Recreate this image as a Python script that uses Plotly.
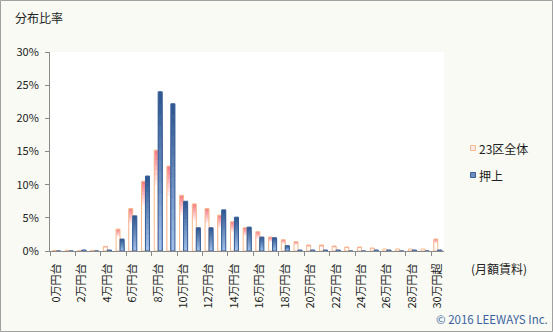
import plotly.graph_objects as go

# ---- data ----
categories = [f"{i}万円台" for i in range(30)] + ["30万円超"]
tokyo23 = [0.1, 0.1, 0.1, 0.1, 0.7, 3.3, 6.4, 10.5, 15.2, 12.8, 8.4, 7.1, 6.4, 5.4, 4.4,
           3.5, 2.9, 2.1, 1.7, 1.4, 0.9, 0.9, 0.75, 0.6, 0.6, 0.45, 0.3, 0.3, 0.3, 0.3, 1.8]
oshiage = [0, 0, 0.15, 0, 0.15, 1.8, 5.3, 11.3, 24.0, 22.2, 7.5, 3.5, 3.5, 6.2, 5.1,
           3.6, 2.1, 2.0, 0.8, 0.15, 0.15, 0.15, 0.15, 0, 0, 0.15, 0.15, 0, 0.15, 0, 0.15]
series_names = ["23区全体", "押上"]
y_ticks = [0, 5, 10, 15, 20, 25, 30]

W, H = 553, 332
ML, MR, MT, MB = 50, 109, 52, 81
PW, PH = W - ML - MR, H - MT - MB


def px(x):
    return (x - ML) / PW


def py(y):
    return (H - MB - y) / PH


def mix(c1, c2, t):
    return "rgb(%d,%d,%d)" % tuple(round(a + (b - a) * t) for a, b in zip(c1, c2))


xs = list(range(len(categories)))
fig = go.Figure()

PINK_OFF, PINK_W = -0.30, 0.31
BLUE_OFF, BLUE_W = 0.01, 0.32

# pink gradient (top pink -> white)
pink_top, white = (247, 128, 140), (255, 255, 255)
NP = 8
for i in range(NP):
    f = 1 - i * 0.05
    fig.add_trace(go.Bar(x=xs, y=[v * f for v in tokyo23], offset=PINK_OFF, width=PINK_W,
                         marker=dict(color=mix(pink_top, white, i / (NP - 1)), line=dict(width=0)),
                         showlegend=False, hoverinfo="skip"))
fig.add_trace(go.Bar(x=xs, y=tokyo23, offset=PINK_OFF, width=PINK_W, name=series_names[0],
                     marker=dict(color="rgba(0,0,0,0)", line=dict(color="#f6b98c", width=1)),
                     showlegend=False))

# blue gradient (top dark -> bottom light)
blue_top, blue_bot = (48, 88, 146), (160, 190, 232)
NB = 14
for i in range(NB):
    f = (NB - i) / NB
    fig.add_trace(go.Bar(x=xs, y=[v * f for v in oshiage], offset=BLUE_OFF, width=BLUE_W,
                         marker=dict(color=mix(blue_top, blue_bot, i / (NB - 1)), line=dict(width=0)),
                         showlegend=False, hoverinfo="skip"))
fig.add_trace(go.Bar(x=xs, y=oshiage, offset=BLUE_OFF, width=BLUE_W, name=series_names[1],
                     marker=dict(color="rgba(0,0,0,0)", line=dict(color="#3a5f96", width=1)),
                     showlegend=False))

font = "Noto Sans CJK JP"
axis_col = "#8a8a8a"

fig.update_layout(
    width=W, height=H, margin=dict(l=ML, r=MR, t=MT, b=MB, pad=0),
    barmode="overlay", showlegend=False,
    paper_bgcolor="#f8faf3", plot_bgcolor="#ffffff",
    font=dict(family=font, size=11, color="#222222"),
    xaxis=dict(range=[-0.5, len(categories) - 0.5], tickmode="array",
               tickvals=xs[::2], ticktext=categories[::2], tickangle=-90,
               ticks="outside", ticklen=7, tickcolor="rgba(0,0,0,0)",
               showline=True, linecolor=axis_col, linewidth=1, showgrid=False, zeroline=False,
               tickfont=dict(size=11, color="#222222"),
               minor=dict(tickmode="array", tickvals=[i - 0.5 for i in xs[::2]],
                          ticks="outside", ticklen=4, tickcolor=axis_col, showgrid=False)),
    yaxis=dict(range=[0, 30], tickmode="array", tickvals=y_ticks,
               ticktext=[f"{v}%" for v in y_ticks],
               ticks="outside", ticklen=4, tickcolor=axis_col, ticklabelstandoff=4,
               showline=True, linecolor=axis_col, linewidth=1, showgrid=False, zeroline=False,
               tickfont=dict(size=11, color="#222222")),
)

ann = [
    dict(text="分布比率", x=px(13), y=py(18), xanchor="left", yanchor="middle",
         font=dict(size=12, color="#222222")),
    dict(text="(月額賃料)", x=px(469), y=py(268), xanchor="left", yanchor="middle",
         font=dict(size=12, color="#222222")),
    dict(text="© 2016 LEEWAYS Inc.", x=px(434), y=py(319), xanchor="left", yanchor="middle",
         font=dict(size=11.5, color="#3c63a0")),
    dict(text=series_names[0], x=px(477), y=py(148), xanchor="left", yanchor="middle",
         font=dict(size=12, color="#222222")),
    dict(text=series_names[1], x=px(477), y=py(175), xanchor="left", yanchor="middle",
         font=dict(size=12, color="#222222")),
]
for a in ann:
    a.update(xref="paper", yref="paper", showarrow=False)
fig.update_layout(annotations=ann)

shapes = [
    dict(type="rect", xref="paper", yref="paper", x0=px(0.5), x1=px(W - 0.5), y0=py(0.5), y1=py(H - 0.5),
         line=dict(color="#a0a0a0", width=1), fillcolor="rgba(0,0,0,0)", layer="above"),
    dict(type="rect", xref="paper", yref="paper", x0=px(470.5), x1=px(475.5), y0=py(145.5), y1=py(150.5),
         line=dict(color="#f6b98c", width=1), fillcolor="#fde8ea"),
    dict(type="rect", xref="paper", yref="paper", x0=px(470.5), x1=px(475.5), y0=py(172.5), y1=py(177.5),
         line=dict(color="#3a5f96", width=1), fillcolor="#6f8fc0"),
]
fig.update_layout(shapes=shapes)

fig.write_html("out.html")
